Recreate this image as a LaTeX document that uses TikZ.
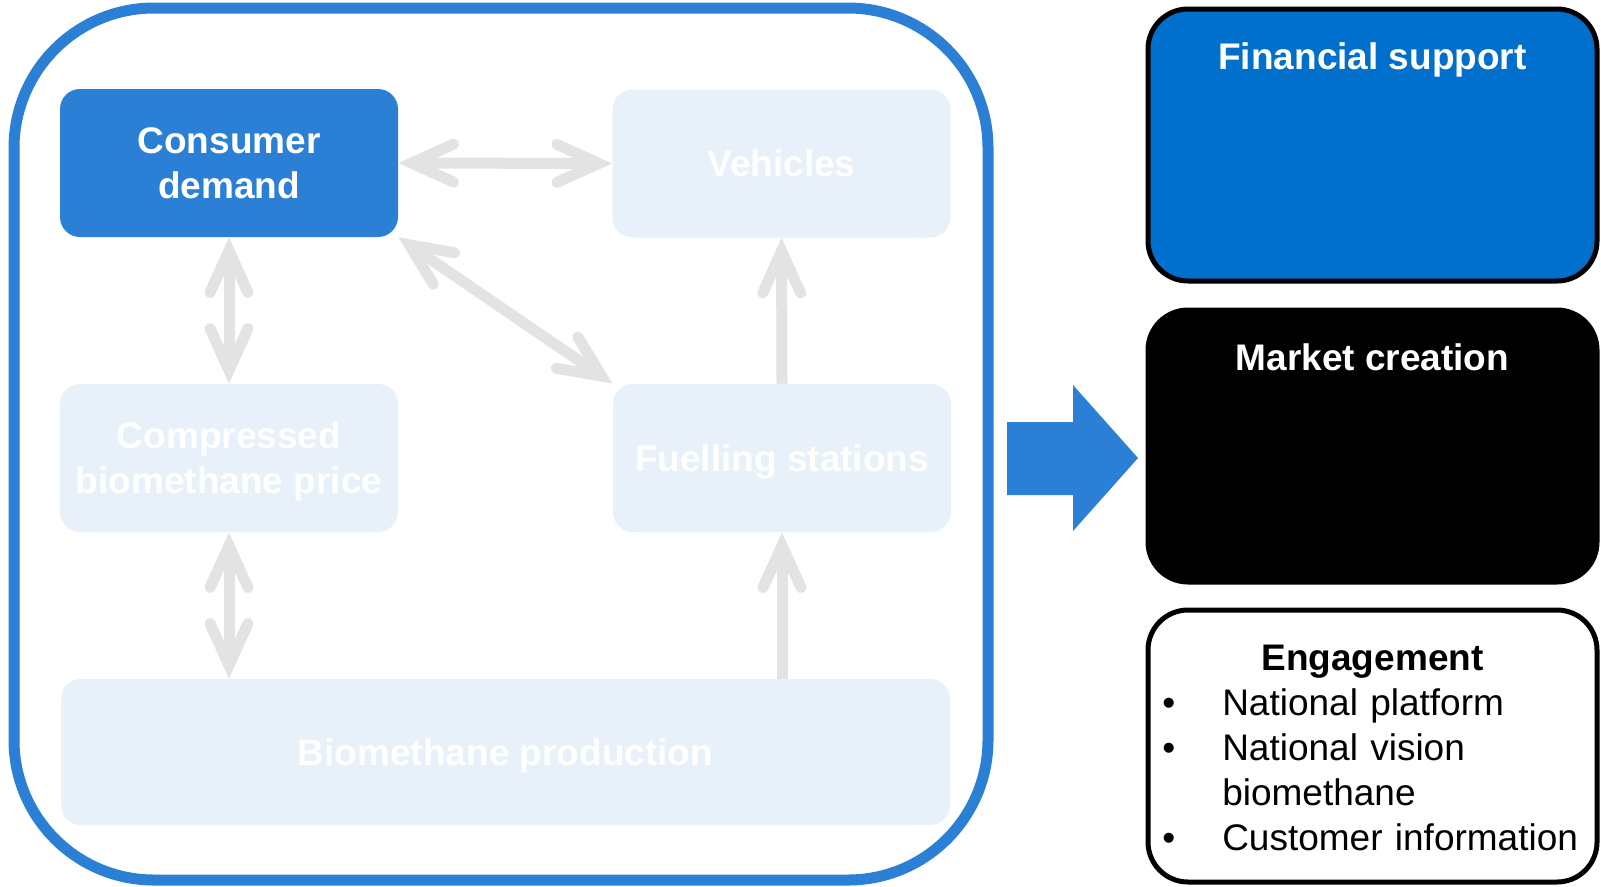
\documentclass[tikz,border=0pt]{standalone}
\usepackage{fontspec}
\setmainfont{Liberation Sans}
\usetikzlibrary{arrows.meta, positioning, calc}
\definecolor{frameblue}{HTML}{2B7FD5}
\definecolor{paleblue}{HTML}{E8F0FA}
\definecolor{arrowgrey}{HTML}{E3E3E3}
\definecolor{finblue}{HTML}{0070CC}
\newcommand{\bulletitem}[1]{\hangindent=45pt\hangafter=1\makebox[45pt][l]{\textbullet}#1\par}

\begin{document}
\begin{tikzpicture}[x=0.75pt, y=-0.75pt,
  >={Straight Barb[length=31.5pt, width=28.5pt, line cap=round, line join=miter]},
  every node/.style={font=\fontsize{27.75pt}{33.75pt}\selectfont},
  factor/.style={rounded corners=15pt, minimum width=253.5pt, minimum height=111pt,
    align=center, text=white, text depth=0pt, font=\fontsize{27.75pt}{33.75pt}\selectfont\bfseries},
  pale/.style={factor, fill=paleblue},
  link/.style={draw=arrowgrey, line width=8.25pt},
  sidebox/.style={draw=black, line width=3.75pt, rounded corners=30pt,
    minimum width=336.75pt, minimum height=204pt},
  boxtitle/.style={anchor=base, text=white, font=\fontsize{27.75pt}{33.75pt}\selectfont\bfseries}]
  \useasboundingbox (0,0) rectangle (1601,886);

  % left frame with the factors
  \draw[frameblue, line width=8.25pt, rounded corners=105pt] (14,8) rectangle (988,880);

  \node[factor, fill=frameblue] (demand) at (229,163) {Consumer\\demand};
  \node[pale] (vehicles) at (781.5,163.5) {Vehicles};
  \node[pale] (price) at (229,458) {Compressed\\biomethane price};
  \node[pale] (stations) at (782,458) {Fuelling stations};
  \node[pale, minimum width=666.75pt, minimum height=109.5pt] (production) at (505.5,752) {Biomethane production};

  \draw[link, <->] (demand.east) -- (vehicles.west);
  \draw[link, <->] (demand.south east) -- (stations.north west);
  \draw[link, <->] (demand.south) -- (price.north);
  \draw[link, <->] (price.south) -- (price.south |- production.north);
  \draw[link, ->] (stations.north) -- (vehicles.south);
  \draw[link, ->] (stations.south |- production.north) -- (stations.south);

  % block arrow
  \fill[frameblue] (1007,422) -- (1073,422) -- (1073,385) -- (1138,458)
    -- (1073,531) -- (1073,495) -- (1007,495) -- cycle;

  % policy boxes
  \node[sidebox, fill=finblue] (finance) at (1372.5,145) {};
  \node[sidebox, fill=black] (market) at (1372.5,446) {};
  \node[sidebox, fill=white] (engage) at (1372.5,746) {};

  \node[boxtitle] (financetitle) at ([yshift=-47pt]finance.north) {Financial support};
  \node[boxtitle] (markettitle) at ([yshift=-47pt]market.north) {Market creation};
  \node[boxtitle, text=black] (engagetitle) at ([yshift=-47pt]engage.north) {Engagement};
  \node[anchor=base west, text width=321pt, align=left, inner sep=0pt] (engageitems) at (1162,715) {%
    \bulletitem{National platform}
    \bulletitem{National vision biomethane}
    \bulletitem{Customer information}};
\end{tikzpicture}
\end{document}
